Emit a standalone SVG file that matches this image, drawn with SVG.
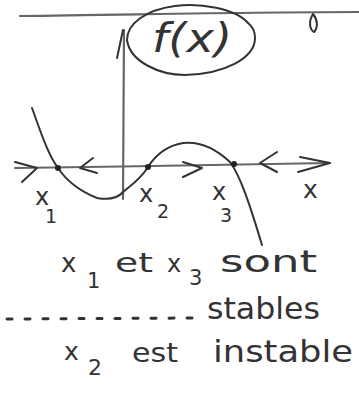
<svg xmlns="http://www.w3.org/2000/svg" width="359" height="394" viewBox="0 0 359 394">
<style>
.ink{fill:none;stroke:#333;stroke-width:2;stroke-linecap:round;stroke-linejoin:round}
.axis{fill:none;stroke:#666;stroke-width:2.2;stroke-linecap:round;stroke-linejoin:round}
.t{font-family:"DejaVu Sans","Liberation Sans",sans-serif;fill:#333}
.dot{fill:#222}
</style>
<rect width="359" height="394" fill="#fff"/>
<g id="title-line">
<path class="axis" d="M20,16 C120,15 250,12 359,12"/>
<path class="ink" d="M313,14 C308,22 310,30 314,32 C318,28 318,20 313,14"/>
</g>
<g id="label-f">
<path class="ink" d="M248,23 C235,8 200,3 175,6 C145,10 127,24 127,40 C130,62 160,75 185,75 C225,74 255,58 255,38 C255,30 252,26 248,23"/>
<text class="t" x="152" y="52" font-size="40" font-style="italic" textLength="80" lengthAdjust="spacingAndGlyphs">f(x)</text>
</g>
<g id="connectors">
<path class="axis" d="M123,199 L124,30"/>
<path class="ink" d="M117,58 L123,30"/>
<path class="axis" d="M15,168 C120,167 230,164 330,163"/>
<path class="ink" d="M300,157 L330,163 L298,172"/>
<path class="ink" d="M15,162 L37,168 L22,182"/>
<path class="ink" d="M93,158 L80,168 L97,173"/>
<path class="ink" d="M183,162 L202,168 L183,177"/>
<path class="ink" d="M277,152 L260,163 L277,172"/>
<path class="ink" d="M32,108 C40,130 48,155 58,168 C66,180 77,190 97,198 C108,200 117,199 123,192 C130,186 140,180 148,167 C155,156 165,146 183,143 C200,141 215,148 230,162 C240,175 250,205 262,245"/>
</g>
<g id="equilibria">
<circle class="dot" cx="58" cy="168" r="3"/>
<circle class="dot" cx="148" cy="167" r="3"/>
<circle class="dot" cx="234" cy="164" r="3"/>
</g>
<g id="axis-labels">
<text class="t" x="35" y="205" font-size="24">x</text>
<text class="t" x="45" y="223" font-size="19">1</text>
<text class="t" x="139" y="202" font-size="24">x</text>
<text class="t" x="157" y="218" font-size="19">2</text>
<text class="t" x="212" y="200" font-size="24">x</text>
<text class="t" x="220" y="222" font-size="19">3</text>
<text class="t" x="303" y="198" font-size="25">x</text>
</g>
<g id="conclusion">
<text class="t" x="61" y="272" font-size="26">x</text>
<text class="t" x="87" y="288" font-size="21">1</text>
<text class="t" x="115" y="272" font-size="27" textLength="38" lengthAdjust="spacingAndGlyphs">et</text>
<text class="t" x="167" y="272" font-size="24">x</text>
<text class="t" x="189" y="285" font-size="21">3</text>
<text class="t" x="220" y="272" font-size="30" textLength="97" lengthAdjust="spacingAndGlyphs">sont</text>
<path d="M7,319 L193,318" fill="none" stroke="#333" stroke-width="3" stroke-dasharray="5 13" stroke-linecap="round"/>
<text class="t" x="207" y="319" font-size="30" textLength="113" lengthAdjust="spacingAndGlyphs">stables</text>
<text class="t" x="64" y="360" font-size="25">x</text>
<text class="t" x="88" y="375" font-size="22">2</text>
<text class="t" x="132" y="362" font-size="27" textLength="46" lengthAdjust="spacingAndGlyphs">est</text>
<text class="t" x="213" y="362" font-size="30" textLength="140" lengthAdjust="spacingAndGlyphs">instable</text>
</g>
</svg>
